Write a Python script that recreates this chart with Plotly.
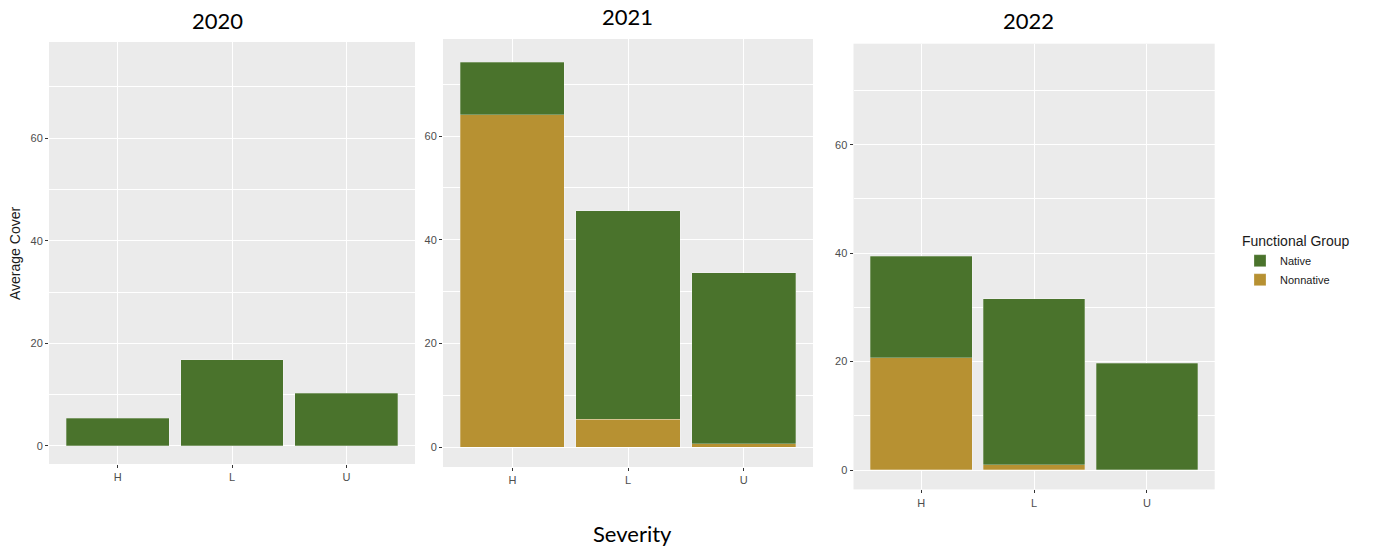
import plotly.graph_objects as go

# ---- data ----
years = ["2020", "2021", "2022"]
severity = ["H", "L", "U"]
native_2020 = [5.4, 16.8, 10.3]
nonnative_2020 = [0.0, 0.0, 0.0]
native_2021 = [10.2, 40.2, 33.0]
nonnative_2021 = [64.1, 5.4, 0.6]
native_2022 = [18.7, 30.6, 19.7]
nonnative_2022 = [20.7, 1.0, 0.0]

native = [native_2020, native_2021, native_2022]
nonnative = [nonnative_2020, nonnative_2021, nonnative_2022]

GREEN = "#4A732C"
GOLD = "#B79132"
W, H = 1378, 550


def px(x):
    return x / W


def py(y):
    return 1 - y / H


# pixel geometry of each panel (window coords): (x0, x1, ytop, ybottom, yrange)
panels = [
    (49, 415, 42, 464, [-3.51, 78.75]),
    (443, 813, 39, 467, [-3.86, 78.76]),
    (853.5, 1214.7, 43.7, 489.4, [-3.58, 78.65]),
]
title_pos = [(218, 20), (627, 17), (1028, 20)]

fig = go.Figure()
for i in range(3):
    sfx = "" if i == 0 else str(i + 1)
    fig.add_trace(go.Bar(
        x=severity, y=nonnative[i], name="Nonnative", legendgroup="Nonnative",
        showlegend=(i == 0), marker=dict(color=GOLD, line=dict(width=0.6, color="rgba(255,255,255,0.45)")),
        width=0.9, xaxis="x" + sfx, yaxis="y" + sfx))
    fig.add_trace(go.Bar(
        x=severity, y=native[i], name="Native", legendgroup="Native",
        showlegend=(i == 0), marker=dict(color=GREEN, line=dict(width=0.6, color="rgba(255,255,255,0.45)")),
        width=0.9, xaxis="x" + sfx, yaxis="y" + sfx))

layout = dict(
    width=W, height=H, barmode="stack", bargap=0.1,
    margin=dict(l=0, r=0, t=0, b=0),
    paper_bgcolor="white", plot_bgcolor="#EBEBEB",
    font=dict(family="Liberation Sans, Arial, sans-serif", color="#4D4D4D"),
    showlegend=True,
    legend=dict(
        title=dict(text="Functional Group", font=dict(size=14, color="#1A1A1A")),
        font=dict(size=11, color="#1A1A1A"),
        x=px(1240), y=py(228), xanchor="left", yanchor="top",
        traceorder="reversed", bgcolor="rgba(0,0,0,0)", itemwidth=30,
        tracegroupgap=7,
    ),
)

annotations = []
for i, (x0, x1, yt, yb, yr) in enumerate(panels):
    sfx = "" if i == 0 else str(i + 1)
    layout["xaxis" + sfx] = dict(
        domain=[px(x0), px(x1)], anchor="y" + sfx, type="category",
        categoryorder="array", categoryarray=severity, range=[-0.6, 2.6],
        showgrid=True, gridcolor="white", gridwidth=1.2, zeroline=False,
        ticks="outside", ticklen=3, tickcolor="#333333", tickwidth=1,
        tickfont=dict(size=11, color="#4D4D4D"), showline=False,
    )
    layout["yaxis" + sfx] = dict(
        domain=[py(yb), py(yt)], anchor="x" + sfx, range=yr,
        tick0=0, dtick=20, showgrid=True, gridcolor="white", gridwidth=1.2,
        zeroline=False, ticks="outside", ticklen=3, tickcolor="#333333",
        tickwidth=1, tickfont=dict(size=11, color="#4D4D4D"), showline=False,
        minor=dict(tick0=0, dtick=10, showgrid=True, gridcolor="white", gridwidth=0.6, ticks=""),
    )
    tx, ty = title_pos[i]
    annotations.append(dict(
        text=years[i], x=px(tx), y=py(ty), xref="paper", yref="paper",
        xanchor="center", yanchor="middle", showarrow=False,
        font=dict(family="Lato, Carlito, sans-serif", size=22, color="black")))

annotations.append(dict(
    text="Severity", x=px(632), y=py(533), xref="paper", yref="paper",
    xanchor="center", yanchor="middle", showarrow=False,
    font=dict(family="Lato, Carlito, sans-serif", size=22, color="black")))
annotations.append(dict(
    text="Average Cover", x=px(15), y=py(254), xref="paper", yref="paper",
    xanchor="center", yanchor="middle", showarrow=False, textangle=-90,
    font=dict(size=14, color="#1A1A1A")))

layout["annotations"] = annotations
fig.update_layout(**layout)
fig.write_html(
    "out.html",
    config={"displayModeBar": False},
    post_script="document.body.style.margin='0';document.body.style.overflow='hidden';",
)
